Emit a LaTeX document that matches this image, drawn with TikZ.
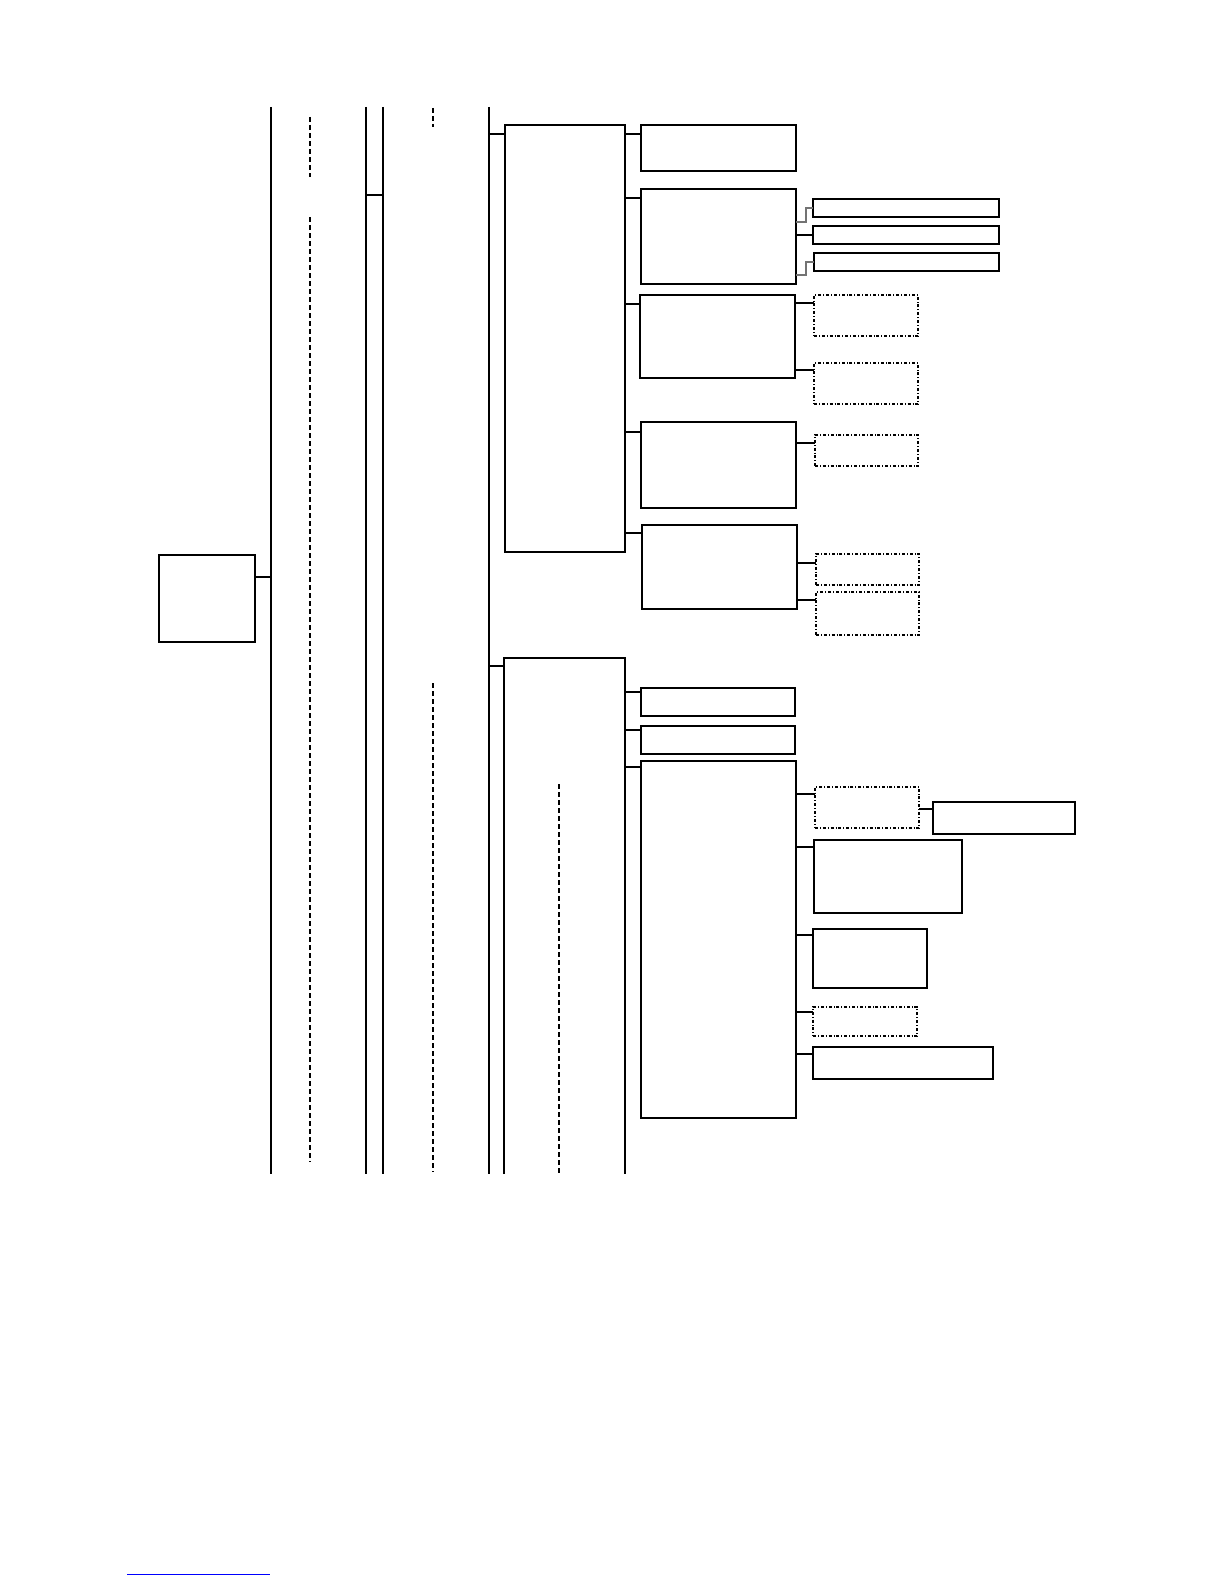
\documentclass[tikz,border=0pt]{standalone}
\usepackage{tikz}
\usetikzlibrary{positioning}
\tikzset{
    %Define style for boxes
    box/.style={
           rectangle,
           draw=black, line width=0.8pt,
           inner sep=0pt, outer sep=0pt},
    dbox/.style={
           rectangle,
           draw=black, line width=0.7pt,
           dash pattern=on 1.5pt off 1pt on 0.4pt off 1pt,
           inner sep=0pt, outer sep=0pt},
    % Define line styles
    trunk/.style={line width=0.8pt},
    guide/.style={line width=0.6pt, dash pattern=on 2.5pt off 1.5pt},
    lnk/.style={line width=0.8pt},
    sublnk/.style={line width=0.6pt, black!55}
}
\begin{document}
\begin{tikzpicture}[x=0.5pt,y=-0.5pt]
\useasboundingbox (0,0) rectangle (1224,1584);
 %trunk lines
\coordinate (t1) at (271,107); \coordinate (t1b) at (271,1174);
\coordinate (t2) at (366,107); \coordinate (t2b) at (366,1174);
\coordinate (t3) at (383,107); \coordinate (t3b) at (383,1174);
\coordinate (t4) at (489,107); \coordinate (t4b) at (489,1174);
\foreach \t in {t1,t2,t3,t4}
  \draw[trunk] (\t) -- (\t b);
\coordinate (jn) at (366,195);
\draw[lnk] (jn) -- (t3 |- jn);
 %dashed guides
\draw[guide] (310,117) coordinate (g1) -- (310,177) coordinate (g1b);
\draw[guide] (310,217) coordinate (g2) -- (310,1162) coordinate (g2b);
\draw[guide] (433,108) coordinate (g3) -- (433,127) coordinate (g3b);
\draw[guide] (433,683) coordinate (g4) -- (433,1172) coordinate (g4b);
\draw[guide] (559,784) coordinate (g5) -- (559,1174) coordinate (g5b);
 %root
\node[box, minimum width=48pt, minimum height=43.5pt] (root) at (207,598.5) {};
\coordinate (r) at ([yshift=-11pt]root.north east);
\draw[lnk] (r) -- (t1 |- r);
 %first branch
\node[box, minimum width=60pt, minimum height=213.5pt] (A) at (565,338.5) {};
\node[box, minimum width=77.5pt, minimum height=23pt] (A1) at (718.5,148) {};
\node[box, minimum width=77.5pt, minimum height=47.5pt] (A2) at (718.5,236.5) {};
\node[box, minimum width=77.5pt, minimum height=41.5pt] (A3) at (717.5,336.5) {};
\node[box, minimum width=77.5pt, minimum height=43pt] (A4) at (718.5,465) {};
\node[box, minimum width=77.5pt, minimum height=42pt] (A5) at (719.5,567) {};
\node[box, minimum width=93pt, minimum height=9pt] (C1) at (906,208) {};
\node[box, minimum width=93pt, minimum height=9pt] (C2) at (906,235) {};
\node[box, minimum width=92.5pt, minimum height=9pt] (C3) at (906.5,262) {};
\node[dbox, minimum width=52pt, minimum height=20.5pt] (D1) at (866,315.5) {};
\node[dbox, minimum width=52pt, minimum height=20.5pt] (D2) at (866,383.5) {};
\node[dbox, minimum width=51.5pt, minimum height=15.5pt] (D3) at (866.5,450.5) {};
\node[dbox, minimum width=51.5pt, minimum height=15.5pt] (D4) at (867.5,569.5) {};
\node[dbox, minimum width=51.5pt, minimum height=21.5pt] (D5) at (867.5,613.5) {};
 %second branch (open at the bottom)
\node[minimum width=60.5pt, minimum height=258pt, inner sep=0pt, outer sep=0pt] (B) at (564.5,916) {};
\draw[trunk] (B.south west) -- (B.north west) -- (B.north east) -- (B.south east);
\node[box, minimum width=77pt, minimum height=14pt] (B1) at (718,702) {};
\node[box, minimum width=77pt, minimum height=14pt] (B2) at (718,740) {};
\node[box, minimum width=77.5pt, minimum height=178.5pt] (B3) at (718.5,939.5) {};
\node[dbox, minimum width=52pt, minimum height=20.5pt] (E1) at (867,807.5) {};
\node[box, minimum width=71pt, minimum height=16pt] (E1b) at (1004,818) {};
\node[box, minimum width=74pt, minimum height=36.5pt] (E2) at (888,876.5) {};
\node[box, minimum width=57pt, minimum height=29.5pt] (E3) at (870,958.5) {};
\node[dbox, minimum width=52pt, minimum height=14.5pt] (E4) at (865,1021.5) {};
\node[box, minimum width=90pt, minimum height=16pt] (E5) at (903,1063) {};
 %connectors from the trunk
\coordinate (a) at ([yshift=-4.5pt]A.north west);
\draw[lnk] (a) -- (t4 |- a);
\coordinate (b) at ([yshift=-4pt]B.north west);
\draw[lnk] (b) -- (t4 |- b);
 %connectors child/parent/offset
\foreach \c/\p/\d in {A1/A/9, A2/A/9, A3/A/9, A4/A/10, A5/A/8,
    D1/A3/8, D2/A3/7, D3/A4/8, D4/A5/9, D5/A5/8,
    B1/B/4, B2/B/4, B3/B/6,
    E1/B3/7, E1b/E1/7, E2/B3/7, E3/B3/6, E4/B3/5, E5/B3/7} {
  \coordinate (h) at ([yshift=-\d*0.5pt]\c.north west);
  \draw[lnk] (h) -- (\p.east |- h);
}
\draw[lnk] (C2.west) -- (A2.east |- C2.west);
\coordinate (k1) at ([yshift=-16.5pt]A2.north east);
\draw[sublnk] (k1) -- ++(10,0) |- (C1.west);
\coordinate (k3) at ([yshift=-43pt]A2.north east);
\draw[sublnk] (k3) -- ++(10,0) |- (C3.west);
 %rule at the foot
\coordinate (fl) at (127,1574);
\coordinate (fr) at (270,1574);
\draw[blue, line width=0.5pt] (fl) -- (fr);
\end{tikzpicture}
\end{document}
